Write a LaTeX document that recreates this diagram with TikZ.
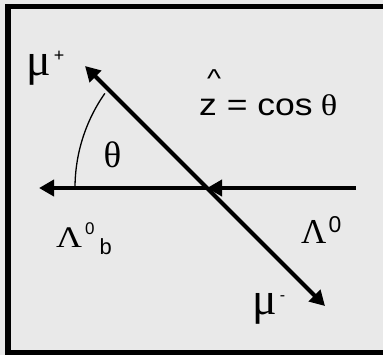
\documentclass[tikz,border=0pt]{standalone}
\usepackage{graphicx}
\usepackage{fontspec}
\setmainfont{Liberation Sans}
\newfontfamily\grk{Liberation Serif}
\usetikzlibrary{arrows.meta}
\usetikzlibrary{positioning}

\definecolor{panelgrey}{HTML}{E9E9E9}
\newcommand{\fsz}[1]{\fontsize{#1}{#1}\selectfont}
\tikzset{
  ray/.style={line width=4bp,-{Triangle[length=15bp,width=16bp]}},
  lbl/.style={inner sep=0pt,text=black},
}

\begin{document}
\begin{tikzpicture}[x=1bp,y=-1bp]
\useasboundingbox (0,0) rectangle (382.97,354.97);
\fill[panelgrey] (-2,-2) rectangle (386,358);
\begin{scope}
\clip (0,0) rectangle (383,355);
\draw[line width=5.5bp] (400,6.5) -- (8,6.5) -- (8,353) -- (400,353);
\end{scope}

\coordinate (O) at (207,188);
\coordinate (Lend) at (39,188);
\coordinate (Rstart) at (356,188);
\coordinate (Mup) at (85,66);
\coordinate (Mdown) at (325,306);

\draw[ray] (Rstart) -- (O);
\draw[ray] (O) -- (Lend);
\draw[ray,{Triangle[length=15bp,width=16bp]}-{Triangle[length=15bp,width=16bp]}] (Mup) -- (Mdown);
\draw[line width=1.3bp] (75,188) arc[start angle=180,end angle=215,radius=165];

\node[lbl,anchor=base west] (muplus) at (26,75) {{\grk\fsz{46}μ}\kern3pt\raisebox{14pt}{\fsz{18}+}};
\node[lbl,anchor=base west] (muminus) at (252,314) {{\grk\fsz{46}μ}\kern3pt\raisebox{14pt}{\fsz{16}-}};
\node[lbl] (theta) at (112.5,155) {\grk\fsz{37}θ};
\node[lbl,anchor=base west] (zcos) at (199,115) {\scalebox{1.15}[1]{\fsz{31}\rlap{\kern7pt\raisebox{28pt}{\fsz{26}\textasciicircum}}z = cos\kern7pt{\grk\fsz{30}θ}}};
\node[lbl,anchor=base west] (lambdab) at (56,247) {\scalebox{1.2}[1]{\grk\fsz{30}Λ}\kern3pt\raisebox{13pt}{\fsz{17}0}\kern5pt\raisebox{-8pt}{\fsz{22}b}};
\node[lbl,anchor=base west] (lambda) at (301,243) {{\grk\fsz{35}Λ}\kern2pt\raisebox{11pt}{\fsz{23}0}};
\end{tikzpicture}
\end{document}
